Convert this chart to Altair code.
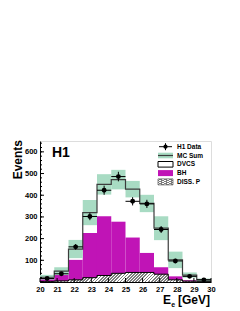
import altair as alt
import pandas as pd

FONT = "Liberation Sans"

# ---- data -----------------------------------------------------------------
bin_lo = [20.0, 20.8333, 21.6667, 22.5, 23.3333, 24.1667, 25.0, 25.8333, 26.6667, 27.5, 28.3333, 29.1667]
bin_hi = [20.8333, 21.6667, 22.5, 23.3333, 24.1667, 25.0, 25.8333, 26.6667, 27.5, 28.3333, 29.1667, 30.0]
h1_data = [16, 38, 162, 302, 423, 486, 372, 360, 242, 97, 26, 10]
h1_err = [4, 6, 13, 17, 21, 22, 19, 19, 16, 10, 5, 3]
mc_sum = [22, 50, 152, 320, 450, 472, 428, 362, 248, 102, 32, 10]
mc_err = [11, 18, 42, 58, 47, 45, 38, 40, 55, 38, 12, 6]
bh = [15, 40, 102, 226, 303, 278, 205, 134, 68, 26, 8, 3]
diss_p = [3, 5, 10, 20, 30, 40, 44, 44, 36, 10, 4, 2]

x_ticks = [20, 21, 22, 23, 24, 25, 26, 27, 28, 29, 30]
y_labels = [100, 200, 300, 400, 500, 600]
y_minor = list(range(0, 650, 20))
legend_labels = ["H1 Data", "MC Sum", "DVCS", "BH", "DISS. P"]

# ---- tables ---------------------------------------------------------------
bins = pd.DataFrame({
    "lo": bin_lo, "hi": bin_hi,
    "c": [(a + b) / 2 for a, b in zip(bin_lo, bin_hi)],
    "data": h1_data,
    "dlo": [d - e for d, e in zip(h1_data, h1_err)],
    "dhi": [d + e for d, e in zip(h1_data, h1_err)],
    "mclo": [m - e for m, e in zip(mc_sum, mc_err)],
    "mchi": [m + e for m, e in zip(mc_sum, mc_err)],
    "bh": bh, "zero": [0] * len(bin_lo),
})
steps = pd.DataFrame({
    "edge": bin_lo + [bin_hi[-1]],
    "mc": mc_sum + [mc_sum[-1]],
    "diss": diss_p + [diss_p[-1]],
})
one = pd.DataFrame({"k": [0]})

W, H = 171, 141
GREEN = "#a8dbc3"
MAG = "#c014b6"
LINE = "#3c3c3c"

xs = alt.Scale(domain=[20, 30], nice=False, zero=False)
ys = alt.Scale(domain=[0, 650], nice=False, zero=False)
xaxis = alt.Axis(values=x_ticks, ticks=False, grid=False, labelFont=FONT, labelFontSize=7.5,
                 labelFontWeight="bold", labelColor="black", labelPadding=3, domainColor="black",
                 labelFlush=False)
yaxis = alt.Axis(values=y_labels, ticks=False, grid=False, labelFont=FONT, labelFontSize=7.5,
                 labelFontWeight="bold", labelColor="black", labelPadding=3, domainColor="black")


def X(f):
    return alt.X(f, type="quantitative", scale=xs, axis=xaxis, title=None)


def Y(f):
    return alt.Y(f, type="quantitative", scale=ys, axis=yaxis, title=None)


def hatch(n, x2=1.0, y2=1.0, dark="#7d7d7d"):
    stops = []
    for k in range(n):
        a = k / n
        m = (k + 0.45) / n
        b = (k + 1) / n
        stops += [alt.GradientStop(color="white", offset=a),
                  alt.GradientStop(color="white", offset=m),
                  alt.GradientStop(color=dark, offset=m),
                  alt.GradientStop(color=dark, offset=b)]
    return alt.LinearGradient(gradient="linear", stops=stops, x1=0, y1=0, x2=x2, y2=y2)


base = alt.Chart(bins)
bh_rect = base.mark_rect(color=MAG).encode(x=X("lo"), x2="hi", y=Y("zero"), y2="bh")
diss_area = alt.Chart(steps).mark_area(interpolate="step-after", color=hatch(55, 1.0, 0.0556)).encode(
    x=X("edge"), y=Y("diss"))
diss_line = alt.Chart(steps).mark_line(interpolate="step-after", color="black", strokeWidth=1).encode(
    x=X("edge"), y=Y("diss"))
band = base.mark_rect(color=GREEN).encode(x=X("lo"), x2="hi", y=Y("mclo"), y2="mchi")
mc_line = alt.Chart(steps).mark_line(interpolate="step-after", color=LINE, strokeWidth=1.2).encode(
    x=X("edge"), y=Y("mc"))
err_v = base.mark_rule(color="black", strokeWidth=1).encode(x=X("c"), y=Y("dlo"), y2="dhi")
err_h = base.mark_rule(color="black", strokeWidth=1).encode(x=X("lo"), x2="hi", y=Y("data"))
pts = base.mark_circle(color="black", opacity=1, size=24).encode(x=X("c"), y=Y("data"))

# inside ticks (ROOT style)
ymaj = alt.Chart(pd.DataFrame({"v": [0] + y_labels})).mark_rule(color="black").encode(
    y=Y("v"), x=alt.value(0), x2=alt.value(4))
ymin = alt.Chart(pd.DataFrame({"v": y_minor})).mark_rule(color="black").encode(
    y=Y("v"), x=alt.value(0), x2=alt.value(2))
xmaj = alt.Chart(pd.DataFrame({"v": x_ticks})).mark_rule(color="black").encode(
    x=X("v"), y=alt.value(H), y2=alt.value(H - 4))

# texts
h1_txt = alt.Chart(one).mark_text(text="H1", font=FONT, fontWeight="bold", fontSize=14,
                                  align="left", baseline="alphabetic", color="black").encode(
    x=alt.value(12), y=alt.value(16))
ev_txt = alt.Chart(one).mark_text(text="Events", font=FONT, fontWeight="bold", fontSize=12,
                                  angle=270, align="right", baseline="alphabetic", color="black").encode(
    x=alt.value(-18.5), y=alt.value(-1))
e_txt = alt.Chart(one).mark_text(text="E", font=FONT, fontWeight="bold", fontSize=12,
                                 align="right", baseline="alphabetic", color="black").encode(
    x=alt.value(131), y=alt.value(163))
esub = alt.Chart(one).mark_text(text="e", font=FONT, fontWeight="bold", fontSize=7,
                                align="left", baseline="alphabetic", color="black").encode(
    x=alt.value(131.3), y=alt.value(165.5))
gev = alt.Chart(one).mark_text(text="[GeV]", font=FONT, fontWeight="bold", fontSize=12,
                               align="right", baseline="alphabetic", color="black").encode(
    x=alt.value(170), y=alt.value(163))

# legend
lx0, lx1, ltx = 118, 133, 137
legend_layers = []
for i, lab in enumerate(legend_labels):
    yc = 5.7 + 8.8 * i
    legend_layers.append(alt.Chart(one).mark_text(text=lab, font=FONT, fontWeight="bold", fontSize=6.5,
                                                  align="left", baseline="middle", color="black").encode(
        x=alt.value(ltx), y=alt.value(yc)))
    if i == 0:
        legend_layers += [
            alt.Chart(one).mark_rule(color="black").encode(x=alt.value(lx0 + 1), x2=alt.value(lx1 - 1),
                                                           y=alt.value(yc)),
            alt.Chart(one).mark_rule(color="black").encode(x=alt.value((lx0 + lx1) / 2),
                                                           y=alt.value(yc - 3.5), y2=alt.value(yc + 3.5)),
            alt.Chart(one).mark_circle(color="black", opacity=1, size=18).encode(
                x=alt.value((lx0 + lx1) / 2), y=alt.value(yc)),
        ]
    elif i == 1:
        legend_layers += [
            alt.Chart(one).mark_rect(color=GREEN).encode(x=alt.value(lx0), x2=alt.value(lx1),
                                                         y=alt.value(yc - 2.8), y2=alt.value(yc + 2.8)),
            alt.Chart(one).mark_rule(color=LINE, strokeWidth=1.2).encode(x=alt.value(lx0), x2=alt.value(lx1),
                                                                        y=alt.value(yc)),
        ]
    elif i == 2:
        legend_layers.append(alt.Chart(one).mark_rect(fill="white", stroke="black", strokeWidth=1).encode(
            x=alt.value(lx0), x2=alt.value(lx1), y=alt.value(yc - 2.8), y2=alt.value(yc + 2.8)))
    elif i == 3:
        legend_layers.append(alt.Chart(one).mark_rect(color=MAG).encode(
            x=alt.value(lx0), x2=alt.value(lx1), y=alt.value(yc - 3), y2=alt.value(yc + 3)))
    else:
        legend_layers.append(alt.Chart(one).mark_rect(fill=hatch(6), stroke="#555", strokeWidth=0.7).encode(
            x=alt.value(lx0), x2=alt.value(lx1), y=alt.value(yc - 3), y2=alt.value(yc + 3)))

chart = alt.layer(
    bh_rect, diss_area, diss_line, band, mc_line, err_v, err_h, pts,
    ymin, ymaj, xmaj, h1_txt, ev_txt, e_txt, esub, gev, *legend_layers
).properties(
    width=W, height=H,
    autosize=alt.AutoSizeParams(type="none"),
    padding={"left": 32, "top": 133, "right": 20, "bottom": 28},
).configure_view(stroke="#666666", strokeWidth=1).configure(background="white")

chart.save("out.html", embed_options={"renderer": "svg", "actions": False})
